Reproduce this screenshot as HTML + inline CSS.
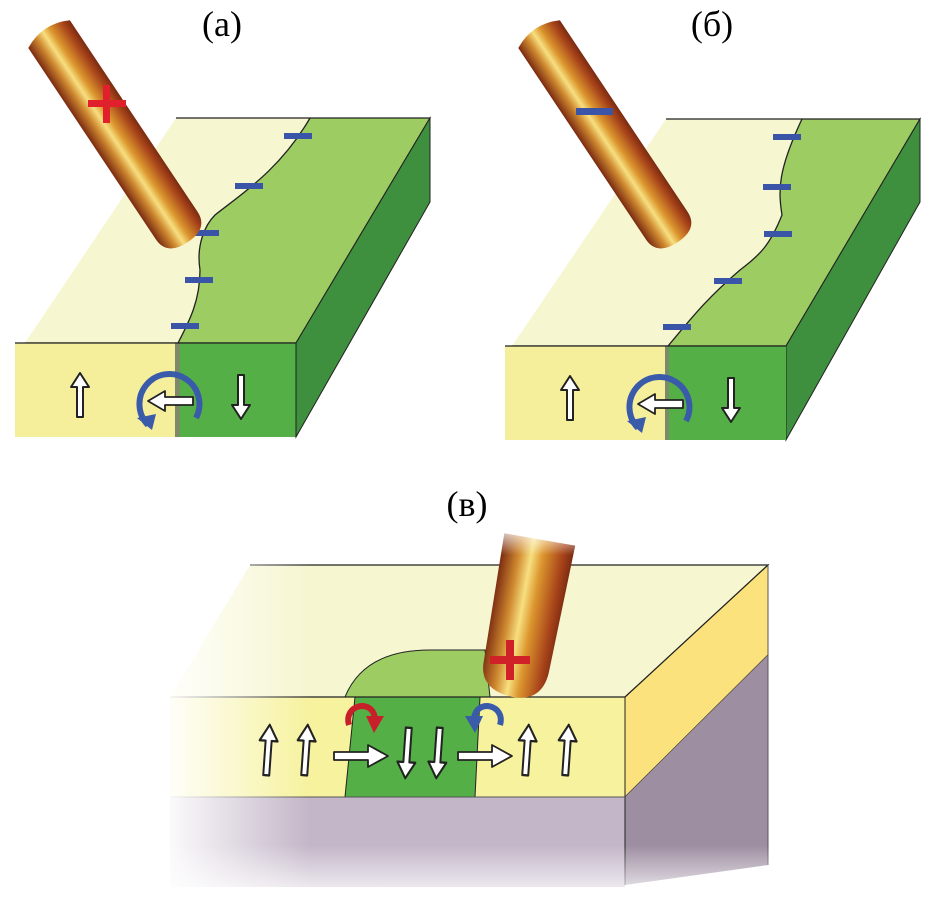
<!DOCTYPE html>
<html><head><style>
html,body{margin:0;padding:0;background:#fff;}
svg{display:block;}
text{font-family:"Liberation Serif",serif;}
</style></head><body>
<svg width="936" height="906" viewBox="0 0 936 906" xmlns="http://www.w3.org/2000/svg">
<defs>
<linearGradient id="probe" x1="0" x2="1" y1="0" y2="0">
<stop offset="0" stop-color="#7a2a10"/>
<stop offset="0.25" stop-color="#d08a30"/>
<stop offset="0.42" stop-color="#f7df80"/>
<stop offset="0.58" stop-color="#dc962e"/>
<stop offset="0.85" stop-color="#a8441a"/>
<stop offset="1" stop-color="#7a2a10"/>
</linearGradient>
<linearGradient id="fadeL" x1="0" x2="1" y1="0" y2="0">
<stop offset="0" stop-color="#fff" stop-opacity="1"/>
<stop offset="1" stop-color="#fff" stop-opacity="0"/>
</linearGradient>
<linearGradient id="fadeB" x1="0" x2="0" y1="0" y2="1">
<stop offset="0" stop-color="#fff" stop-opacity="0"/>
<stop offset="1" stop-color="#fff" stop-opacity="1"/>
</linearGradient>
<linearGradient id="fadeT" x1="0" x2="0" y1="0" y2="1">
<stop offset="0" stop-color="#fff" stop-opacity="1"/>
<stop offset="1" stop-color="#fff" stop-opacity="0"/>
</linearGradient>
<g id="upArrow"><path d="M-3,22 L-3,-8 L-9,-8 L0,-22 L9,-8 L3,-8 L3,22 Z" fill="#fff" stroke="#222" stroke-width="2" stroke-linejoin="round"/></g>
</defs>

<text x="222" y="36" font-size="36" text-anchor="middle">(a)</text>
<text x="712" y="36" font-size="36" text-anchor="middle">(б)</text>
<text x="467" y="516" font-size="36" text-anchor="middle">(в)</text>

<!-- Panel a -->
<g>
<path d="M176,118 L310,118 L296,343 L25,343 Z" fill="#f6f6d0"/>
<path d="M310,118 L430,118 L296,343 L178,343 C190,320 200,300 200,270 C196,245 205,225 215,215 C240,195 280,170 310,118 Z" fill="#9dcd62"/>
<path d="M310,118 C280,170 240,195 215,215 C205,225 196,245 200,270 C200,300 190,320 178,343" fill="none" stroke="#222" stroke-width="1.3"/>
<path d="M176,118 L430,118 L296,343 L25,343" fill="none" stroke="#222" stroke-width="1.2"/>
<path d="M296,343 L430,118 L430,202 L296,437 Z" fill="#3e8f3e" stroke="#222" stroke-width="1"/>
<rect x="15" y="343" width="160" height="94" fill="#f5ef9c"/>
<rect x="180" y="343" width="116" height="94" fill="#54b046"/>
<rect x="175" y="343" width="5" height="94" fill="#7c8a6a"/>
<line x1="15" y1="343" x2="296" y2="343" stroke="#222" stroke-width="1.2"/>
<line x1="296" y1="343" x2="296" y2="437" stroke="#222" stroke-width="1"/>
<g fill="#3a55a8"><rect x="284" y="133" width="28" height="6"/><rect x="235" y="183" width="28" height="6"/><rect x="191" y="230" width="28" height="6"/><rect x="185" y="277" width="28" height="6"/><rect x="171" y="323" width="28" height="6"/></g>
<use href="#upArrow" x="80" y="395"/>
<use href="#upArrow" transform="translate(241,397) rotate(180)"/>
<path d="M148,425 A30,30 0 1 1 196,418" fill="none" stroke="#3a5aaa" stroke-width="6"/>
<path d="M137,418 L152,430 L156,414 Z" fill="#3a5aaa"/>
<path d="M193,397 L165,397 L165,391 L148,401 L165,411 L165,405 L193,405 Z" fill="#fff" stroke="#222" stroke-width="1.8" stroke-linejoin="round"/>
<g transform="translate(185,238) rotate(-33.7)">
<path d="M-25,-245 Q0,-258 25,-245 L25,-15 Q25,5 0,5 Q-25,5 -25,-15 Z" fill="url(#probe)"/>
</g>
<g fill="#e0202a"><rect x="88" y="100" width="38" height="7"/><rect x="103" y="85" width="7" height="38"/></g>
</g>

<!-- Panel b -->
<g>
<path d="M666,119 L802,119 L786,346 L512,346 Z" fill="#f6f6d0"/>
<path d="M802,119 L920,119 L786,346 L668,346 C690,320 705,300 740,270 C760,255 770,245 782,215 C778,190 778,170 802,119 Z" fill="#9dcd62"/>
<path d="M802,119 C778,170 778,190 782,215 C770,245 760,255 740,270 C705,300 690,320 668,346" fill="none" stroke="#222" stroke-width="1.3"/>
<path d="M666,119 L920,119 L786,346 L512,346" fill="none" stroke="#222" stroke-width="1.2"/>
<path d="M786,346 L920,119 L920,202 L786,440 Z" fill="#3e8f3e" stroke="#222" stroke-width="1"/>
<rect x="505" y="346" width="160" height="94" fill="#f5ef9c"/>
<rect x="669" y="346" width="117" height="94" fill="#54b046"/>
<rect x="665" y="346" width="4" height="94" fill="#7c8a6a"/>
<line x1="505" y1="346" x2="786" y2="346" stroke="#222" stroke-width="1.2"/>
<g fill="#3a55a8"><rect x="773" y="134" width="28" height="6"/><rect x="763" y="184" width="28" height="6"/><rect x="764" y="231" width="28" height="6"/><rect x="714" y="278" width="28" height="6"/><rect x="663" y="324" width="28" height="6"/></g>
<use href="#upArrow" x="570" y="398"/>
<use href="#upArrow" transform="translate(731,400) rotate(180)"/>
<path d="M638,428 A30,30 0 1 1 686,421" fill="none" stroke="#3a5aaa" stroke-width="6"/>
<path d="M627,421 L642,433 L646,417 Z" fill="#3a5aaa"/>
<path d="M683,400 L655,400 L655,394 L638,404 L655,414 L655,408 L683,408 Z" fill="#fff" stroke="#222" stroke-width="1.8" stroke-linejoin="round"/>
<g transform="translate(675,238) rotate(-33.7)">
<path d="M-25,-245 Q0,-258 25,-245 L25,-15 Q25,5 0,5 Q-25,5 -25,-15 Z" fill="url(#probe)"/>
</g>
<rect x="576" y="108" width="37" height="7" fill="#3a55a8"/>
</g>

<!-- Panel c -->
<g>
<path d="M250,565 L768,565 L625,697 L170,697 Z" fill="#f6f6d0"/>
<path d="M625,697 L768,565 L768,655 L625,797 Z" fill="#fbe27c" stroke="#222" stroke-width="1"/>
<path d="M625,797 L768,655 L768,865 L625,885 Z" fill="#9e8ea2"/>
<rect x="170" y="797" width="455" height="90" fill="#c3b6c8"/>
<rect x="170" y="697" width="455" height="100" fill="#f6f29e"/>
<path d="M345,697 C360,660 395,650 430,650 L485,650 L490,697 Z" fill="#9dcd62" stroke="#222" stroke-width="1"/>
<path d="M355,697 L480,697 L475,797 L345,797 Z" fill="#54b046" stroke="#222" stroke-width="1"/>
<path d="M250,565 L768,565 L625,697 L170,697" fill="none" stroke="#222" stroke-width="1.2"/>
<line x1="625" y1="697" x2="625" y2="885" stroke="#222" stroke-width="1"/>
<line x1="170" y1="797" x2="625" y2="797" stroke="#555" stroke-width="1"/>
<line x1="768" y1="565" x2="768" y2="865" stroke="#555" stroke-width="1"/>
<rect x="160" y="560" width="150" height="340" fill="url(#fadeL)"/>
<rect x="160" y="845" width="620" height="61" fill="url(#fadeB)"/>
<g transform="translate(512,697) rotate(10)">
<path d="M-36,-160 L36,-160 L32,-30 Q30,0 0,0 Q-34,-2 -34,-30 Z" fill="url(#probe)"/>
</g>
<rect x="460" y="525" width="140" height="30" fill="url(#fadeT)"/>
<g fill="#d02028"><rect x="490" y="656" width="40" height="8"/><rect x="506" y="640" width="8" height="40"/></g>
<use href="#upArrow" transform="translate(268,750) rotate(4) scale(1,1.15)"/>
<use href="#upArrow" transform="translate(306,750) rotate(4) scale(1,1.15)"/>
<use href="#upArrow" transform="translate(407,753) rotate(184) scale(1,1.15)"/>
<use href="#upArrow" transform="translate(438,753) rotate(184) scale(1,1.15)"/>
<use href="#upArrow" transform="translate(527,750) rotate(4) scale(1,1.15)"/>
<use href="#upArrow" transform="translate(567,750) rotate(4) scale(1,1.15)"/>
<path d="M334,752 L368,752 L368,745 L388,756 L368,767 L368,760 L334,760 Z" fill="#fff" stroke="#222" stroke-width="1.8" stroke-linejoin="round"/>
<path d="M458,752 L492,752 L492,745 L512,756 L492,767 L492,760 L458,760 Z" fill="#fff" stroke="#222" stroke-width="1.8" stroke-linejoin="round"/>
<path d="M349,725 C343,705 372,698 375,718" fill="none" stroke="#c8202a" stroke-width="6"/>
<path d="M366,716 L384,716 L374,733 Z" fill="#c8202a"/>
<path d="M500,725 C506,705 477,698 474,718" fill="none" stroke="#3a5aaa" stroke-width="6"/>
<path d="M465,716 L483,716 L475,733 Z" fill="#3a5aaa"/>
</g>
</svg>
</body></html>
